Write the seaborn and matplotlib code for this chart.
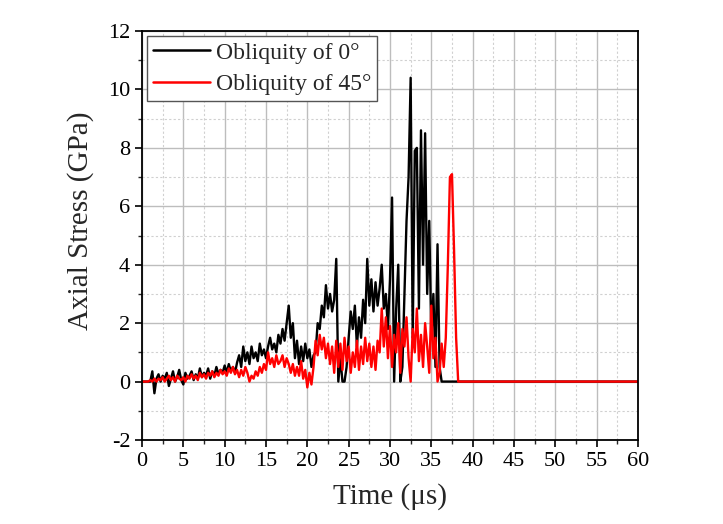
import numpy as np
import pandas as pd
import matplotlib
matplotlib.use("Agg")
import matplotlib.pyplot as plt
import seaborn as sns
from matplotlib.ticker import MultipleLocator

# ---- data ----
black_t0 = 1.0
black_dt = 0.25
black_vals = [
    0.0, 0.35, -0.4, 0.1,      # 1
    0.25, 0.0, 0.2, 0.1,       # 2
    0.3, -0.15, 0.1, 0.35,     # 3
    0.0, 0.15, 0.4, 0.05,      # 4
    -0.1, 0.3, 0.1, 0.2,       # 5
    0.35, 0.05, 0.25, 0.1,     # 6
    0.45, 0.15, 0.3, 0.2,      # 7
    0.45, 0.1, 0.35, 0.2,      # 8
    0.5, 0.25, 0.4, 0.3,       # 9
    0.55, 0.3, 0.6, 0.35,      # 10
    0.5, 0.3, 0.65, 0.9,       # 11
    0.5, 1.2, 0.7, 1.0,        # 12
    0.6, 1.2, 0.8, 1.0,        # 13
    0.7, 1.3, 0.9, 1.1,        # 14
    0.8, 1.2, 1.5, 1.1,        # 15
    1.3, 1.0, 1.6, 1.3,        # 16
    1.8, 1.4, 2.0, 2.6,        # 17
    1.5, 2.0, 0.8, 1.4,        # 18
    0.6, 1.2, 0.7, 1.3,        # 19
    0.8, 1.1, 0.5, 0.9,        # 20
    1.0, 2.0, 1.8, 2.6,        # 21
    2.2, 3.3, 2.5, 3.0,        # 22
    2.4, 2.8, 4.2, 0.0,        # 23
    0.8, 0.0, 0.0, 0.5,        # 24
    1.5, 2.4, 1.8, 2.6,        # 25
    1.2, 2.2, 1.5, 2.8,        # 26
    2.0, 4.2, 2.6, 3.5,        # 27
    2.4, 3.4, 2.6, 3.2,        # 28
    4.0, 2.5, 3.0, 1.8,        # 29
    3.5, 6.3, 0.0, 2.5,        # 30
    4.0, 0.0, 0.5, 3.0,        # 31
    5.5, 7.0, 10.4, 1.5,       # 32
    7.9, 8.0, 2.5, 8.6,        # 33
    4.0, 8.5, 3.0, 5.5,        # 34
    1.5, 3.0, 0.5, 4.7,        # 35
    0.5, 0.0, 0.0,             # 36
]

red_t0 = 0.0
red_dt = 0.25
red_vals = [
    0.0, 0.0, 0.0, 0.0,        # 0
    0.05, 0.0, 0.1, 0.0,       # 1
    0.1, 0.05, 0.15, 0.0,      # 2
    0.1, 0.2, 0.05, 0.15,      # 3
    0.0, 0.2, 0.1, 0.05,       # 4
    0.15, 0.0, 0.2, 0.1,       # 5
    0.25, 0.1, 0.2, 0.05,      # 6
    0.3, 0.15, 0.25, 0.1,      # 7
    0.3, 0.2, 0.35, 0.15,      # 8
    0.3, 0.2, 0.4, 0.25,       # 9
    0.35, 0.2, 0.45, 0.3,      # 10
    0.5, 0.25, 0.4, 0.15,      # 11
    0.4, 0.2, 0.5, 0.3,        # 12
    0.0, 0.2, 0.1, 0.35,       # 13
    0.2, 0.5, 0.3, 0.6,        # 14
    0.4, 1.0, 0.6, 0.8,        # 15
    0.5, 0.9, 0.6, 0.7,        # 16
    0.9, 0.5, 0.8, 0.6,        # 17
    0.3, 0.6, 0.2, 0.5,        # 18
    0.2, 0.7, 0.1, 0.4,        # 19
    -0.2, 0.3, -0.1, 0.5,      # 20
    1.4, 0.9, 1.6, 1.1,        # 21
    1.5, 0.8, 1.3, 0.6,        # 22
    1.2, 0.3, 1.4, 0.5,        # 23
    1.3, 0.4, 1.5, 0.7,        # 24
    1.2, 0.3, 1.0, 0.5,        # 25
    1.4, 0.4, 1.2, 0.6,        # 26
    1.5, 0.7, 1.3, 0.5,        # 27
    1.2, 0.4, 1.4, 1.0,        # 28
    2.5, 1.2, 2.2, 0.8,        # 29
    1.9, 0.5, 1.6, 1.0,        # 30
    2.0, 0.3, 1.8, 1.2,        # 31
    2.2, 0.8, 0.0, 1.8,        # 32
    1.0, 2.5, 0.7, 1.6,        # 33
    0.5, 2.0, 1.2, 0.3,        # 34
    2.6, 0.8, 1.5, 0.0,        # 35
    0.3, 1.3, 0.5, 1.5,        # 36
    4.0, 7.0, 7.1, 4.5,        # 37
    1.5, 0.0, 0.0,             # 38
]

t_end = 60.0
labels = ["Obliquity of 0\u00b0", "Obliquity of 45\u00b0"]
colors = ["#000000", "#ff0000"]

# ---- build table ----
bt = [0.0] + list(black_t0 + black_dt * np.arange(len(black_vals))) + [t_end]
bv = [0.0] + black_vals + [0.0]
rt = list(red_t0 + red_dt * np.arange(len(red_vals))) + [t_end]
rv = red_vals + [0.0]
df = pd.DataFrame({
    "t": bt + rt,
    "v": bv + rv,
    "series": [labels[0]] * len(bt) + [labels[1]] * len(rt),
})

sns.set_style("ticks")
plt.rcParams["font.family"] = ["Liberation Serif", "DejaVu Serif"]
plt.rcParams["axes.unicode_minus"] = False

fig = plt.figure(figsize=(7.23, 5.24), dpi=100)
ax = fig.add_axes([0.1964, 0.1603, 0.6860, 0.7805])

sns.lineplot(data=df, x="t", y="v", hue="series", palette=colors,
             estimator=None, sort=False, linewidth=1.7, ax=ax)

ax.set_xlim(0, 60)
ax.set_ylim(-2, 12)
ax.xaxis.set_major_locator(MultipleLocator(5))
ax.xaxis.set_minor_locator(MultipleLocator(2.5))
ax.yaxis.set_major_locator(MultipleLocator(2))
ax.yaxis.set_minor_locator(MultipleLocator(1))
ax.grid(which="major", color="#bdbdbd", linewidth=1.0, linestyle="-")
ax.grid(which="minor", color="#d0d0d0", linewidth=0.8, linestyle=(0, (2, 2)))
ax.set_axisbelow(True)

for s in ax.spines.values():
    s.set_visible(True)
    s.set_color("black")
    s.set_linewidth(1.3)

ax.tick_params(which="major", direction="out", length=5, width=1.2,
               labelsize=16, colors="black", top=False, right=False)
ax.tick_params(which="minor", direction="out", length=3, width=1.0,
               top=False, right=False)

ax.set_xlabel("Time (\u03bcs)", fontsize=21, labelpad=9)
ax.set_ylabel("Axial Stress (GPa)", fontsize=21)
ax.yaxis.set_label_coords(-0.097, 0.535)

leg = ax.legend(loc="upper left", fontsize=17, handlelength=2.4,
                frameon=True, fancybox=False, borderpad=0.25,
                labelspacing=0.42, handletextpad=0.25,
                borderaxespad=0.22)
leg.get_frame().set_edgecolor("#555555")
leg.get_frame().set_linewidth(1.0)
leg.get_frame().set_alpha(1.0)
for line in leg.get_lines():
    line.set_linewidth(1.8)

fig.savefig("out.png", dpi=100, facecolor="white")
